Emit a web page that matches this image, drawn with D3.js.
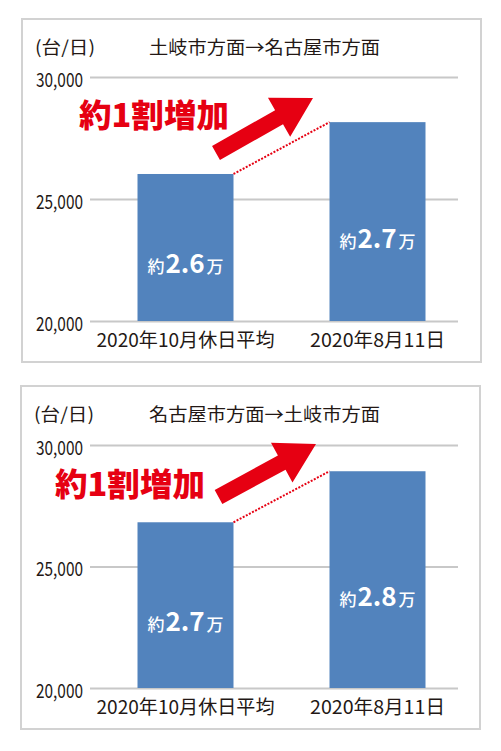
<!DOCTYPE html>
<html><head><meta charset="utf-8">
<script src="https://cdn.jsdelivr.net/npm/d3@7"></script>
<style>body{margin:0;background:#fff}</style>
</head><body><svg id="c" width="501" height="751"></svg>
<script>
// ---- data ----
const categories = ["2020年10月休日平均", "2020年8月11日"];
const titles = ["土岐市方面→名古屋市方面", "名古屋市方面→土岐市方面"];
const valuesTokiToNagoya = [26025, 28150];
const valuesNagoyaToToki = [26820, 28920];
const barLabelsTokiToNagoya = ["2.6", "2.7"];
const barLabelsNagoyaToToki = ["2.7", "2.8"];
const yTicks = [20000, 25000, 30000];
const yDomain = [20000, 30000];
const unitLabel = "(台/日)";
const calloutText = "約1割増加";

// ---- layout ----
const panels = [
  { title: titles[0], values: valuesTokiToNagoya, labels: barLabelsTokiToNagoya,
    box: {x: 22, y: 19, w: 459, h: 343}, yRange: [321, 77],
    callout: {x: 79, y: 127}, tail: [216, 153], tip: [313, 98] },
  { title: titles[1], values: valuesNagoyaToToki, labels: barLabelsNagoyaToToki,
    box: {x: 21, y: 386, w: 459, h: 343}, yRange: [688, 445],
    callout: {x: 55, y: 496}, tail: [218.5, 497], tip: [316, 444] }
];

const TXT = "#231815", BLUE = "#5283bd", RED = "#e60012";
const FONT = "'Noto Sans CJK JP','Noto Sans',sans-serif";
const NUMFONT = "'Liberation Sans Narrow','Noto Sans CJK JP',sans-serif";
const svg = d3.select("#c");

panels.forEach(p => {
  const g = svg.append("g");
  g.append("rect").attr("x", p.box.x).attr("y", p.box.y).attr("width", p.box.w).attr("height", p.box.h)
    .attr("fill", "#fff").attr("stroke", "#d2d2d2").attr("stroke-width", 2);

  const y = d3.scaleLinear().domain(yDomain).range(p.yRange);
  const x = d3.scaleBand().domain(categories).range([89.5, 473.5]).paddingInner(0.5).paddingOuter(0.25);

  // y axis + gridlines
  const ax = g.append("g").attr("transform", "translate(90,0)")
    .call(d3.axisLeft(y).tickValues(yTicks).tickFormat(d3.format(",")).tickSize(-368).tickPadding(7));
  ax.select(".domain").remove();
  ax.selectAll(".tick line").attr("stroke", "#c8c8c8").attr("stroke-width", 2);
  ax.selectAll(".tick text").attr("fill", TXT).attr("font-family", NUMFONT).attr("font-size", 19)
    .attr("dy", null).attr("y", 9).attr("textLength", 47).attr("lengthAdjust", "spacingAndGlyphs");

  // unit and title
  g.append("text").attr("x", p.box.x + 13).attr("y", p.box.y + 35).attr("fill", TXT)
    .attr("font-family", FONT).attr("font-size", 18).attr("textLength", 60).attr("lengthAdjust", "spacingAndGlyphs")
    .text(unitLabel);
  g.append("text").attr("x", 149).attr("y", p.box.y + 35).attr("fill", TXT)
    .attr("font-family", FONT).attr("font-size", 18).attr("textLength", 231).attr("lengthAdjust", "spacingAndGlyphs")
    .text(p.title);

  // bars
  const data = categories.map((c, i) => ({c, v: p.values[i], l: p.labels[i]}));
  g.selectAll("rect.bar").data(data).join("rect").attr("class", "bar")
    .attr("x", d => x(d.c)).attr("width", x.bandwidth())
    .attr("y", d => y(d.v)).attr("height", d => y(yDomain[0]) - y(d.v))
    .attr("fill", BLUE);

  // category labels
  g.selectAll("text.cat").data(data).join("text").attr("class", "cat")
    .attr("x", d => x(d.c) + x.bandwidth() / 2).attr("y", y(yDomain[0]) + 26)
    .attr("text-anchor", "middle").attr("fill", TXT).attr("font-family", FONT).attr("font-size", 19)
    .attr("textLength", (d, i) => i === 0 ? 178 : 135).attr("lengthAdjust", "spacingAndGlyphs")
    .text(d => d.c);

  // bar value labels
  const bl = g.selectAll("text.bl").data(data).join("text").attr("class", "bl")
    .attr("x", d => x(d.c) + x.bandwidth() / 2)
    .attr("y", d => (y(d.v) + y(yDomain[0])) / 2 + 26)
    .attr("text-anchor", "middle").attr("fill", "#fff").attr("font-family", FONT);
  bl.append("tspan").attr("font-size", 17).attr("font-weight", 500).text("約");
  bl.append("tspan").attr("font-size", 26).attr("font-weight", "bold").attr("dx", 1).text(d => d.l);
  bl.append("tspan").attr("font-size", 17).attr("font-weight", 500).attr("dx", 2).text("万");

  // dotted connector
  g.append("line")
    .attr("x1", x(categories[0]) + x.bandwidth()).attr("y1", y(p.values[0]))
    .attr("x2", x(categories[1])).attr("y2", y(p.values[1]))
    .attr("stroke", RED).attr("stroke-width", 2).attr("stroke-dasharray", "2,1.5");

  // callout text
  g.append("text").attr("x", p.callout.x).attr("y", p.callout.y).attr("fill", RED)
    .attr("font-family", FONT).attr("font-weight", 900).attr("font-size", 32)
    .attr("textLength", 150).attr("lengthAdjust", "spacingAndGlyphs").text(calloutText);

  // arrow
  const dx = p.tip[0] - p.tail[0], dy = p.tip[1] - p.tail[1];
  const L = Math.hypot(dx, dy), ang = Math.atan2(dy, dx) * 180 / Math.PI;
  const sw = 8, hw = 22.5, hl = 39;
  g.append("path")
    .attr("d", `M0,${-sw} L${L - hl},${-sw} L${L - hl},${-hw} L${L},0 L${L - hl},${hw} L${L - hl},${sw} L0,${sw} Z`)
    .attr("transform", `translate(${p.tail[0]},${p.tail[1]}) rotate(${ang})`)
    .attr("fill", RED);
});
</script></body></html>
